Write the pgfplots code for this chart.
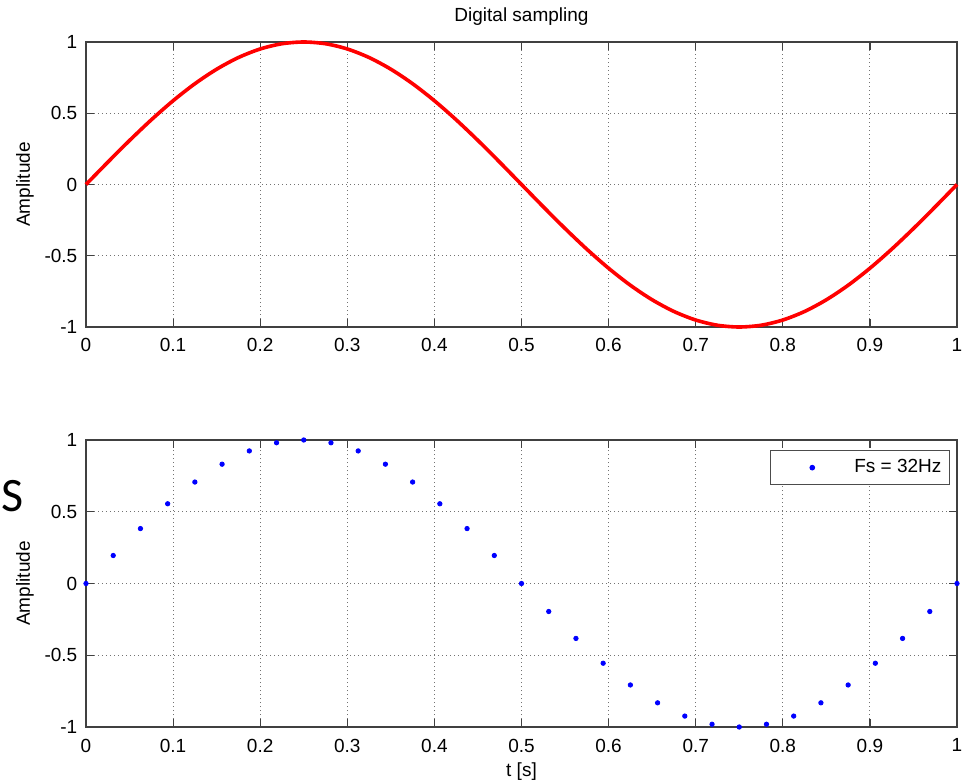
\documentclass[border=0pt]{standalone}
\usepackage{fontspec}
\setmainfont{Liberation Sans}
\newfontfamily\carlito{Carlito}
\usepackage{pgfplots}
\pgfplotsset{compat=1.18}

\pgfplotsset{
  matlab/.style={
    scale only axis,
    width=435.5pt,
    xmin=0, xmax=1, ymin=-1, ymax=1,
    xtick={0,0.1,...,1.0},
    ytick={-1,-0.5,0,0.5,1},
    xticklabels={0,0.1,0.2,0.3,0.4,0.5,0.6,0.7,0.8,0.9,1},
    yticklabels={-1,-0.5,0,0.5,1},
    tick pos=both, ticklabel pos=left,
    tick align=inside,
    major tick length=4pt,
    axis line style={black!75, line width=0.6pt},
    tick style={black!75, line width=0.6pt},
    grid=major,
    major grid style={black!55, line width=0.5pt, dash pattern=on 0.5pt off 1.5pt},
    clip=false,
    ylabel={Amplitude},
    ylabel style={at={(axis description cs:-0.07,0.5)}, anchor=center},
    xticklabel style={yshift=-2.5pt},
    yticklabel style={xshift=-1pt},
  }
}

\begin{document}
\fontsize{9.5}{11.4}\selectfont
\begin{tikzpicture}
\begin{axis}[
  matlab,
  name=top,
  at={(0pt,0pt)}, anchor=south west,
  height=142.5pt,
  title={Digital sampling},
  every axis title shift=0pt,
  title style={at={(axis description cs:0.5,1)}, anchor=center, yshift=12.5pt},
]
\addplot[red, line width=1.8pt, smooth] coordinates {
  (0,0) (0.025,0.1564) (0.05,0.3090) (0.075,0.4540) (0.1,0.5878)
  (0.125,0.7071) (0.15,0.8090) (0.175,0.8910) (0.2,0.9511) (0.225,0.9877)
  (0.25,1) (0.275,0.9877) (0.3,0.9511) (0.325,0.8910) (0.35,0.8090)
  (0.375,0.7071) (0.4,0.5878) (0.425,0.4540) (0.45,0.3090) (0.475,0.1564)
  (0.5,0) (0.525,-0.1564) (0.55,-0.3090) (0.575,-0.4540) (0.6,-0.5878)
  (0.625,-0.7071) (0.65,-0.8090) (0.675,-0.8910) (0.7,-0.9511) (0.725,-0.9877)
  (0.75,-1) (0.775,-0.9877) (0.8,-0.9511) (0.825,-0.8910) (0.85,-0.8090)
  (0.875,-0.7071) (0.9,-0.5878) (0.925,-0.4540) (0.95,-0.3090) (0.975,-0.1564)
  (1,0)
};
\end{axis}

\begin{axis}[
  matlab,
  name=bot,
  at={(0pt,-56.5pt)}, anchor=north west,
  height=143.5pt,
  xlabel={t [s]},
  xlabel style={at={(axis description cs:0.5,-0.157)}, anchor=center},
  legend style={at={([xshift=-3.5pt,yshift=-5pt]rel axis cs:1,1)}, anchor=north east,
    draw=black!70, line width=0.6pt, inner xsep=2pt, inner ysep=2.5pt,
    font=\fontsize{9.5}{11.4}\selectfont},
  legend image code/.code={\path[draw=none] (0pt,-4pt) rectangle (38pt,4pt);
    \draw plot coordinates {(19pt,0pt)};},
]
\addplot[only marks, mark=*, mark size=1.1pt, blue] coordinates {
  (0,0) (0.03125,0.1951) (0.0625,0.3827) (0.09375,0.5556) (0.125,0.7071)
  (0.15625,0.8315) (0.1875,0.9239) (0.21875,0.9808) (0.25,1)
  (0.28125,0.9808) (0.3125,0.9239) (0.34375,0.8315) (0.375,0.7071)
  (0.40625,0.5556) (0.4375,0.3827) (0.46875,0.1951) (0.5,0)
  (0.53125,-0.1951) (0.5625,-0.3827) (0.59375,-0.5556) (0.625,-0.7071)
  (0.65625,-0.8315) (0.6875,-0.9239) (0.71875,-0.9808) (0.75,-1)
  (0.78125,-0.9808) (0.8125,-0.9239) (0.84375,-0.8315) (0.875,-0.7071)
  (0.90625,-0.5556) (0.9375,-0.3827) (0.96875,-0.1951) (1,0)
};
\addlegendentry{Fs = 32Hz}
\end{axis}

\node[font=\carlito\fontsize{24}{26}\selectfont] at (-36.5pt,-84.5pt) {S};

\pgfresetboundingbox
\path[use as bounding box] (-43pt,163.5pt) rectangle (438.5pt,-227pt);
\end{tikzpicture}
\end{document}
